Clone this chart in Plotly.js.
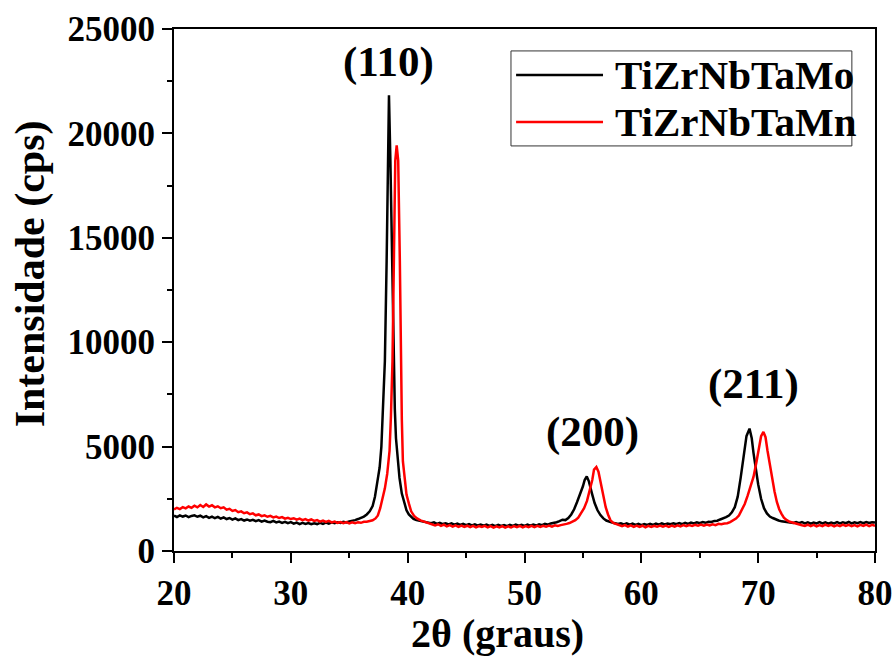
<!DOCTYPE html>
<html>
<head>
<meta charset="utf-8">
<script src="https://cdn.plot.ly/plotly-3.0.1.min.js"></script>
<style>html,body{margin:0;padding:0;background:#fff;}#chart{width:893px;height:658px;}</style>
</head>
<body>
<div id="chart"></div>
<script>
// 2theta (deg) and intensity (cps) for TiZrNbTaMo
const tthMo = [20.0,20.25,20.5,20.75,21.0,21.25,21.5,21.75,22.0,22.25,22.5,22.75,23.0,23.25,23.5,23.75,24.0,24.25,24.5,24.75,25.0,25.25,25.5,25.75,26.0,26.25,26.5,26.75,27.0,27.25,27.5,27.75,28.0,28.25,28.5,28.75,29.0,29.25,29.5,29.75,30.0,30.25,30.5,30.75,31.0,31.25,31.5,31.75,32.0,32.25,32.5,32.75,33.0,33.25,33.5,33.75,34.0,34.25,34.5,34.75,35.0,35.25,35.5,35.75,36.0,36.25,36.5,36.75,37.0,37.2,37.4,37.6,37.75,37.9,38.05,38.2,38.3,38.4,38.52,38.67,38.79,38.9,39.0,39.15,39.3,39.5,39.72,39.9,40.1,40.3,40.5,40.75,41.0,41.25,41.5,41.75,42.0,42.25,42.5,42.75,43.0,43.25,43.5,43.75,44.0,44.25,44.5,44.75,45.0,45.25,45.5,45.75,46.0,46.25,46.5,46.75,47.0,47.25,47.5,47.75,48.0,48.25,48.5,48.75,49.0,49.25,49.5,49.75,50.0,50.25,50.5,50.75,51.0,51.25,51.5,51.75,52.0,52.25,52.5,52.75,53.0,53.25,53.5,53.75,54.0,54.25,54.5,54.75,55.0,55.15,55.33,55.5,55.65,55.8,56.0,56.25,56.5,56.75,57.0,57.25,57.5,57.75,58.0,58.25,58.5,58.75,59.0,59.25,59.5,59.75,60.0,60.25,60.5,60.75,61.0,61.25,61.5,61.75,62.0,62.25,62.5,62.75,63.0,63.25,63.5,63.75,64.0,64.25,64.5,64.75,65.0,65.25,65.5,65.75,66.0,66.25,66.5,66.75,67.0,67.25,67.5,67.75,68.0,68.25,68.5,68.75,69.0,69.26,69.45,69.6,69.8,70.0,70.25,70.5,70.75,71.0,71.25,71.5,71.75,72.0,72.25,72.5,72.75,73.0,73.25,73.5,73.75,74.0,74.25,74.5,74.75,75.0,75.25,75.5,75.75,76.0,76.25,76.5,76.75,77.0,77.25,77.5,77.75,78.0,78.25,78.5,78.75,79.0,79.25,79.5,79.75,80.0];
const intMo = [1700,1630,1710,1650,1700,1620,1680,1710,1640,1690,1610,1670,1590,1650,1570,1630,1550,1610,1530,1580,1500,1560,1480,1530,1460,1510,1450,1490,1430,1480,1410,1460,1400,1380,1440,1370,1410,1350,1400,1330,1380,1310,1360,1290,1350,1300,1340,1280,1330,1290,1350,1300,1360,1310,1370,1330,1380,1340,1400,1370,1420,1440,1480,1530,1580,1650,1750,1900,2150,2600,3300,4000,5000,6800,9100,13900,18000,21830,18700,13900,9100,6800,5400,4300,3500,2750,2280,1950,1750,1620,1540,1480,1450,1400,1380,1350,1330,1370,1300,1350,1290,1330,1270,1320,1260,1310,1250,1300,1240,1290,1230,1280,1220,1270,1210,1260,1200,1250,1190,1250,1200,1240,1190,1250,1200,1260,1210,1250,1200,1260,1210,1270,1220,1280,1240,1300,1260,1320,1340,1380,1430,1500,1480,1580,1750,2000,2350,2700,3100,3400,3570,3350,2950,2700,2300,1950,1720,1560,1460,1400,1360,1330,1290,1330,1270,1320,1260,1310,1250,1300,1240,1290,1250,1300,1250,1310,1260,1320,1270,1310,1280,1330,1280,1340,1290,1350,1300,1360,1320,1370,1330,1390,1350,1400,1390,1440,1450,1510,1560,1620,1700,1850,2100,2600,3500,4600,5500,5860,5400,4700,3900,3200,2500,2050,1800,1650,1580,1510,1460,1420,1400,1380,1370,1340,1390,1330,1380,1320,1370,1310,1360,1320,1380,1320,1370,1310,1360,1320,1380,1320,1370,1330,1390,1320,1370,1330,1380,1330,1390,1340,1380,1360];

// 2theta (deg) and intensity (cps) for TiZrNbTaMn
const tthMn = [20.0,20.25,20.5,20.75,21.0,21.25,21.5,21.75,22.0,22.25,22.5,22.75,23.0,23.25,23.5,23.75,24.0,24.25,24.5,24.75,25.0,25.25,25.5,25.75,26.0,26.25,26.5,26.75,27.0,27.25,27.5,27.75,28.0,28.25,28.5,28.75,29.0,29.25,29.5,29.75,30.0,30.25,30.5,30.75,31.0,31.25,31.5,31.75,32.0,32.25,32.5,32.75,33.0,33.25,33.5,33.75,34.0,34.25,34.5,34.75,35.0,35.25,35.5,35.75,36.0,36.25,36.5,36.75,37.0,37.25,37.45,37.65,37.85,38.05,38.25,38.45,38.57,38.7,38.82,38.94,39.06,39.19,39.33,39.42,39.5,39.59,39.75,39.9,40.1,40.3,40.55,40.8,41.1,41.35,41.6,41.85,42.1,42.35,42.6,42.85,43.1,43.35,43.6,43.85,44.1,44.35,44.6,44.85,45.1,45.35,45.6,45.85,46.1,46.35,46.6,46.85,47.1,47.35,47.6,47.85,48.1,48.35,48.6,48.85,49.1,49.35,49.6,49.85,50.1,50.35,50.6,50.85,51.1,51.35,51.6,51.85,52.1,52.35,52.6,52.85,53.1,53.35,53.6,53.85,54.1,54.35,54.6,54.85,55.1,55.35,55.6,55.8,55.95,56.15,56.33,56.5,56.65,56.8,56.95,57.15,57.35,57.6,57.85,58.1,58.35,58.6,58.85,59.1,59.35,59.6,59.85,60.1,60.35,60.6,60.85,61.1,61.35,61.6,61.85,62.1,62.35,62.6,62.85,63.1,63.35,63.6,63.85,64.1,64.35,64.6,64.85,65.1,65.35,65.6,65.85,66.1,66.35,66.6,66.85,67.1,67.35,67.6,67.85,68.1,68.35,68.6,68.85,69.1,69.35,69.6,69.85,70.05,70.25,70.45,70.63,70.8,71.0,71.2,71.4,71.6,71.8,72.0,72.2,72.45,72.7,73.0,73.25,73.5,73.75,74.0,74.25,74.5,74.75,75.0,75.25,75.5,75.75,76.0,76.25,76.5,76.75,77.0,77.25,77.5,77.75,78.0,78.25,78.5,78.75,79.0,79.25,79.5,79.75,80.0];
const intMn = [1990,2070,2010,2100,2040,2130,2070,2170,2090,2200,2110,2230,2130,2190,2090,2140,2050,2090,1980,2020,1920,1960,1860,1900,1810,1850,1760,1800,1710,1750,1670,1710,1640,1680,1610,1650,1580,1620,1550,1590,1530,1570,1500,1550,1480,1530,1460,1510,1440,1480,1410,1460,1390,1440,1370,1410,1350,1390,1330,1380,1320,1370,1330,1380,1350,1400,1400,1430,1470,1560,1700,2050,2500,3000,3700,4800,6500,9100,13900,18700,19430,18700,13900,9100,6300,4300,3300,2700,2280,1900,1680,1560,1470,1420,1380,1320,1290,1230,1280,1200,1260,1180,1240,1170,1230,1160,1220,1150,1210,1140,1200,1130,1190,1150,1200,1130,1190,1120,1180,1130,1190,1120,1180,1130,1190,1140,1200,1130,1190,1140,1200,1140,1200,1150,1210,1160,1220,1170,1230,1200,1240,1260,1300,1340,1400,1480,1600,1800,2050,2400,2900,3400,3900,4020,3800,3350,2950,2600,2100,1750,1480,1340,1280,1230,1190,1240,1170,1230,1160,1220,1150,1210,1130,1200,1150,1210,1160,1220,1170,1220,1160,1220,1170,1230,1180,1240,1190,1240,1200,1250,1210,1260,1210,1270,1230,1280,1240,1300,1280,1320,1330,1380,1450,1550,1700,1950,2250,2650,3050,3550,4250,4950,5500,5700,5450,4800,4100,3450,2850,2350,2000,1780,1600,1480,1400,1350,1300,1260,1230,1200,1260,1190,1250,1180,1240,1190,1260,1200,1250,1180,1240,1190,1260,1200,1250,1190,1240,1180,1250,1200,1260,1190,1250,1200,1270,1210,1270];

const seriesNames = ['TiZrNbTaMo', 'TiZrNbTaMn'];
const seriesColors = ['#000000', '#ff0000'];
const peakLabels = ['(110)', '(200)', '(211)'];
const peakLabelX = [38.4, 55.8, 69.6];
const peakLabelY = [23400, 5700, 8000];

const FONT = 'Liberation Serif, Times New Roman, serif';

const traces = [
  {x: tthMo, y: intMo, type: 'scatter', mode: 'lines', name: seriesNames[0], line: {color: seriesColors[0], width: 2.5}, showlegend: false},
  {x: tthMn, y: intMn, type: 'scatter', mode: 'lines', name: seriesNames[1], line: {color: seriesColors[1], width: 2.5}, showlegend: false}
];

const annotations = peakLabels.map((t, i) => ({
  x: peakLabelX[i], y: peakLabelY[i], xref: 'x', yref: 'y', text: t, showarrow: false,
  font: {family: FONT, size: 43, color: '#000', weight: 'bold'}, xanchor: 'center', yanchor: 'middle'
}));

// axis titles placed as annotations
annotations.push({x: 0.4608, y: -0.158, xref: 'paper', yref: 'paper', text: '2θ (graus)', showarrow: false,
  xanchor: 'center', yanchor: 'middle', font: {family: FONT, size: 40, color: '#000', weight: 'bold'}});
annotations.push({x: -0.2054, y: 0.530, xref: 'paper', yref: 'paper', text: 'Intensidade (cps)', showarrow: false,
  textangle: -90, xanchor: 'center', yanchor: 'middle', font: {family: FONT, size: 42, color: '#000', weight: 'bold'}});

// custom legend (paper coords)
const legRows = [0.912, 0.822];
seriesNames.forEach((n, i) => {
  annotations.push({x: 0.626, y: legRows[i], xref: 'paper', yref: 'paper', text: n, showarrow: false,
    xanchor: 'left', yanchor: 'middle', font: {family: FONT, size: 41, color: '#000', weight: 'bold'}});
});
const shapes = [
  {type: 'rect', xref: 'paper', yref: 'paper', x0: 0.4807, x1: 0.967, y0: 0.776, y1: 0.958, line: {color: '#333', width: 1}, fillcolor: 'rgba(255,255,255,0)'}
];
seriesNames.forEach((n, i) => {
  shapes.push({type: 'line', xref: 'paper', yref: 'paper', x0: 0.488, x1: 0.612, y0: legRows[i], y1: legRows[i], line: {color: seriesColors[i], width: 2.5}});
});

const layout = {
  width: 893, height: 658,
  margin: {l: 174, r: 18, t: 29, b: 107},
  paper_bgcolor: '#fff', plot_bgcolor: '#fff',
  showlegend: false,
  font: {family: FONT, color: '#000'},
  xaxis: {
    range: [20, 80], tickvals: [20, 30, 40, 50, 60, 70, 80], ticktext: ['20','30','40','50','60','70','80'],
    ticks: 'outside', ticklen: 10, tickwidth: 2, tickcolor: '#000',
    showline: true, linewidth: 2, linecolor: '#000', mirror: true, showgrid: false, zeroline: false,
    minor: {dtick: 5, tick0: 20, ticks: 'outside', ticklen: 5, tickwidth: 2, tickcolor: '#000', showgrid: false},
    tickfont: {family: FONT, size: 35, color: '#000', weight: 'bold'}
  },
  yaxis: {
    range: [0, 25000], tickvals: [0, 5000, 10000, 15000, 20000, 25000], ticktext: ['0','5000','10000','15000','20000','25000'],
    ticks: 'outside', ticklen: 10, tickwidth: 2, tickcolor: '#000',
    showline: true, linewidth: 2, linecolor: '#000', mirror: true, showgrid: false, zeroline: false,
    minor: {dtick: 2500, tick0: 0, ticks: 'outside', ticklen: 5, tickwidth: 2, tickcolor: '#000', showgrid: false},
    tickfont: {family: FONT, size: 35, color: '#000', weight: 'bold'}
  },
  annotations: annotations,
  shapes: shapes
};

Plotly.newPlot('chart', traces, layout, {staticPlot: true, displayModeBar: false});
</script>
</body>
</html>
